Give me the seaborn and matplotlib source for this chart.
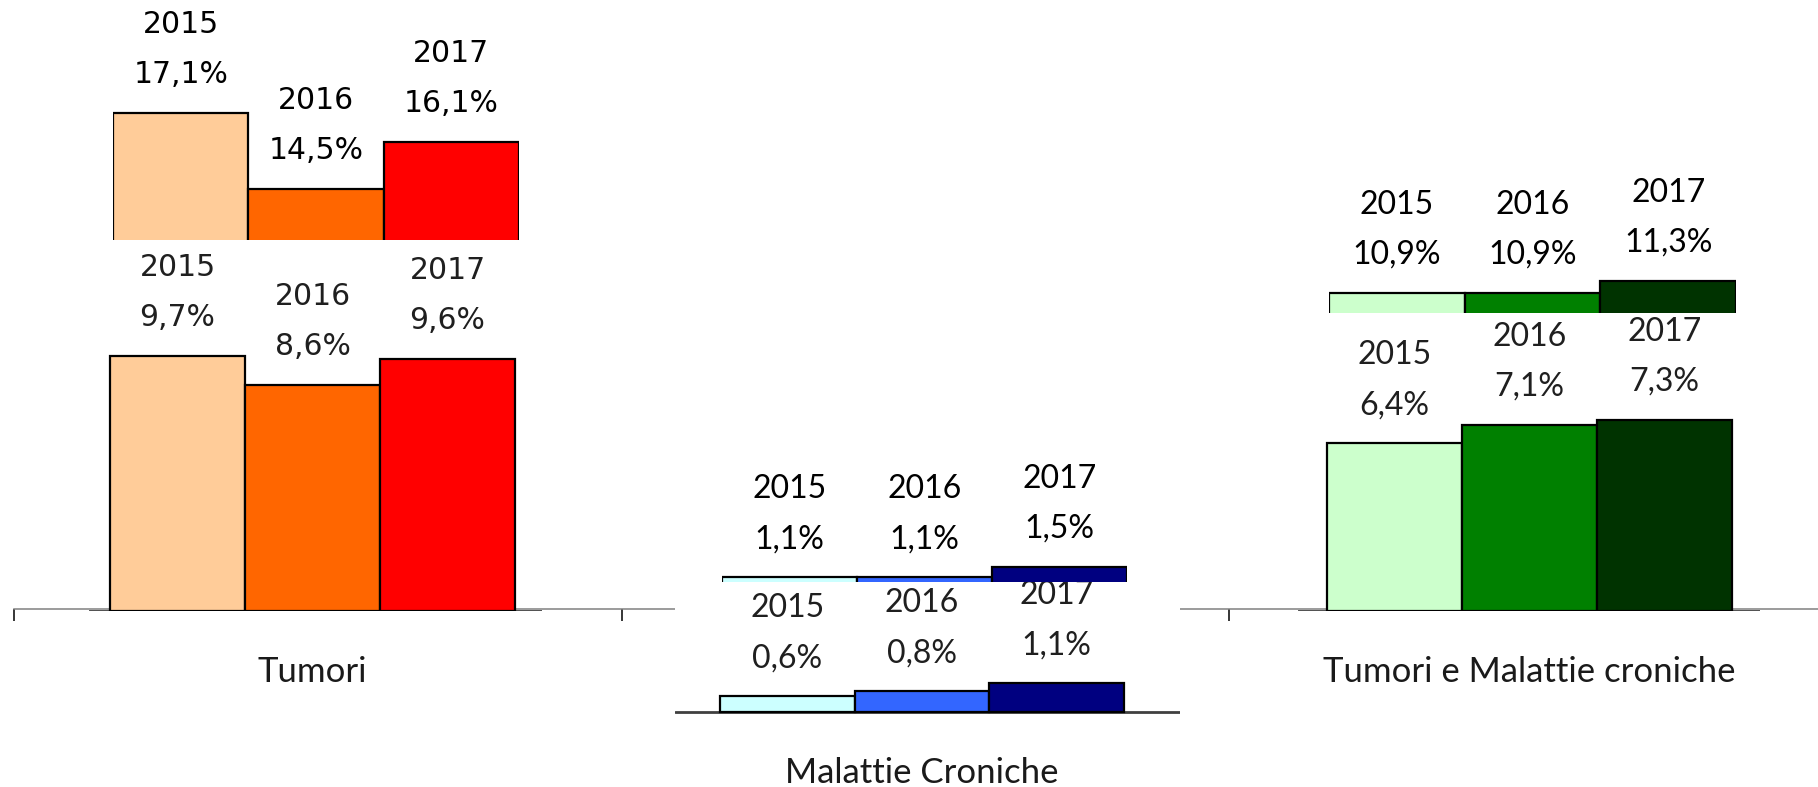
import numpy as np
import pandas as pd
import matplotlib.pyplot as plt
import seaborn as sns

# anni e categorie
years = ['2015', '2016', '2017']
categories = ['Tumori', 'Malattie Croniche', 'Tumori e Malattie croniche']

# valori (%) - riga bassa e riga alta (ritagliata)
tumori_low = [9.7, 8.6, 9.6]
tumori_high = [17.1, 14.5, 16.1]
croniche_low = [0.6, 0.8, 1.1]
croniche_high = [1.1, 1.1, 1.5]
entrambe_low = [6.4, 7.1, 7.3]
entrambe_high = [10.9, 10.9, 11.3]

orange_colors = ['#FFCC99', '#FF6600', '#FF0000']
blue_colors = ['#CCFFFF', '#3366FF', '#000080']
green_colors = ['#CCFFCC', '#008000', '#003300']

W, H = 1818, 787
PT = 0.72  # pixel -> points at dpi 100

sns.set_theme(style='white')
plt.rcParams['font.family'] = ['Lato', 'DejaVu Sans']

fig = plt.figure(figsize=(W / 100, H / 100), dpi=100)
fig.patch.set_facecolor('white')


def px_axes(left, top, right, bottom):
    # axes placed in pixel coordinates (origin top-left)
    return fig.add_axes([left / W, 1 - bottom / H, (right - left) / W, (bottom - top) / H])


def fmt(v):
    return f'{v:.1f}%'.replace('.', ',')


def bar_piece(values, colors, box, bars, y0, scale, font, size,
              text_color='black', label=None, white=False):
    left, top, right, bottom = box
    ax = px_axes(left, top, right, bottom)
    df = pd.DataFrame({'anno': years, 'valore': values})
    sns.barplot(data=df, x='anno', y='valore', hue='anno', palette=colors,
                width=1.0, saturation=1, edgecolor='black', linewidth=1.6,
                legend=False, ax=ax)
    unit = (bars[1] - bars[0]) / 3
    ax.set_xlim(-0.5 - (bars[0] - left) / unit, 2.5 + (right - bars[1]) / unit)
    ax.set_ylim(y0, y0 + (bottom - top) / scale)
    ax.set_facecolor('white' if white else 'none')
    ax.set_xticks([])
    ax.set_yticks([])
    ax.set_xlabel('')
    ax.set_ylabel('')
    for s in ax.spines.values():
        s.set_visible(False)

    for i, v in enumerate(values):
        ax.annotate(fmt(v), (i, v), xytext=(0, 38 * PT), textcoords='offset points',
                    ha='center', va='center', fontsize=size, family=font,
                    color=text_color, annotation_clip=False)
        ax.annotate(years[i], (i, v), xytext=(0, 88 * PT), textcoords='offset points',
                    ha='center', va='center', fontsize=size, family=font,
                    color=text_color, annotation_clip=False)

    if label is not None:
        ax.axhline(0, color='#404040', lw=2, zorder=0.5)
        ax.annotate(label, (1, 0), xytext=(0, -61 * PT), textcoords='offset points',
                    ha='center', va='center', fontsize=25, family=['Lato', 'DejaVu Sans'],
                    color='#1a1a1a', annotation_clip=False)
    return ax


# asse principale: solo la linea e i tick fra le categorie
main = px_axes(14, 0, 14 + 607.5 * 3, 609)
main.set_facecolor('none')
main.set_xlim(-0.5, len(categories) - 0.5)
main.set_ylim(0, 1)
main.set_xticks(np.arange(len(categories) + 1) - 0.5)
main.set_xticklabels([])
main.set_yticks([])
for side in ['left', 'top', 'right']:
    main.spines[side].set_visible(False)
main.spines['bottom'].set_color('#808080')
main.spines['bottom'].set_linewidth(1.1)
main.tick_params(axis='x', bottom=True, direction='out', length=12 * PT,
                 width=1.1, color='black')

low_txt = '#1f1f1f'

# Tumori
bar_piece(tumori_low, orange_colors, (89, 250, 542, 611), (110, 515), 0, 26.3,
          'DejaVu Sans', 21.5, low_txt, label=categories[0])
bar_piece(tumori_high, orange_colors, (113, 0, 519, 240), (113, 519), 12.75, 29.3,
          'DejaVu Sans', 21.5)

# Malattie Croniche (incollato più in basso)
bar_piece(croniche_low, blue_colors, (675, 582, 1180, 787), (720, 1124),
          -(787 - 712) / 26.2, 26.2, 'Lato', 23, low_txt, label=categories[1], white=True)
bar_piece(croniche_high, blue_colors, (722, 440, 1127, 582), (722, 1127), 0.91, 26,
          'Lato', 23)

# Tumori e Malattie croniche
bar_piece(entrambe_low, green_colors, (1298, 320, 1760, 611), (1327, 1732), 0, 26.2,
          'Lato', 23, low_txt, label=categories[2])
bar_piece(entrambe_high, green_colors, (1329, 150, 1736, 313), (1329, 1736), 10.23, 30,
          'Lato', 23)

fig.savefig('out.png', dpi=100, facecolor='white')
